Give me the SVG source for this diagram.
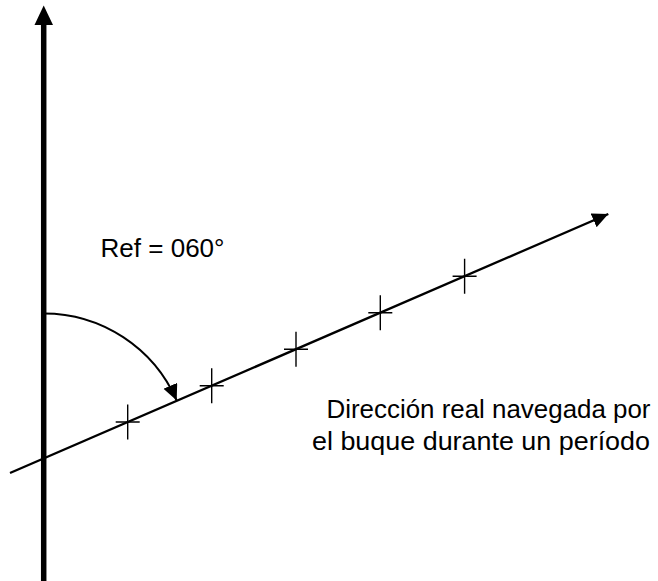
<svg xmlns="http://www.w3.org/2000/svg" width="658" height="581" viewBox="0 0 658 581">
<style>
.ln{stroke:#000;fill:none}
.tk{stroke:#000;stroke-width:1.4;fill:none}
.tx{font-family:"Liberation Sans",Arial,sans-serif;font-size:25px;fill:#000}
</style>
<defs>
<marker id="ah" markerUnits="userSpaceOnUse" markerWidth="18" markerHeight="16" refX="16" refY="7.5" orient="auto">
<path d="M0,0 L16,7.5 L0,15 z" fill="#000"/>
</marker>
</defs>
<rect width="658" height="581" fill="#fff"/>
<g id="axis">
<line class="ln" x1="43.7" y1="581" x2="43.7" y2="22" stroke-width="5.5"/>
<polygon points="34.5,25 43.7,5.5 53,25" fill="#000"/>
</g>
<g id="connectors">
<line class="ln" x1="10" y1="473" x2="608.3" y2="214" stroke-width="2.3" marker-end="url(#ah)"/>
<path class="ln" d="M43.7,313.4 A145,145 0 0 1 176.7,400.5" stroke-width="2" marker-end="url(#ah)"/>
</g>
<g id="ticks">
<path class="tk" d="M127.7,404.5 v35 M115.7,422 h24"/>
<path class="tk" d="M211.7,368.2 v35 M199.7,385.7 h24"/>
<path class="tk" d="M296,331.7 v35 M284,349.2 h24"/>
<path class="tk" d="M380.3,295.2 v35 M368.3,312.7 h24"/>
<path class="tk" d="M464.6,258.7 v35 M452.6,276.2 h24"/>
</g>
<g id="label-ref">
<text class="tx" x="100.5" y="257" textLength="124" lengthAdjust="spacingAndGlyphs">Ref = 060°</text>
</g>
<g id="label-dir">
<text class="tx" x="326.5" y="418" textLength="324" lengthAdjust="spacingAndGlyphs">Dirección real navegada por</text>
<text class="tx" x="312" y="449.5" textLength="338" lengthAdjust="spacingAndGlyphs">el buque durante un período</text>
</g>
</svg>
